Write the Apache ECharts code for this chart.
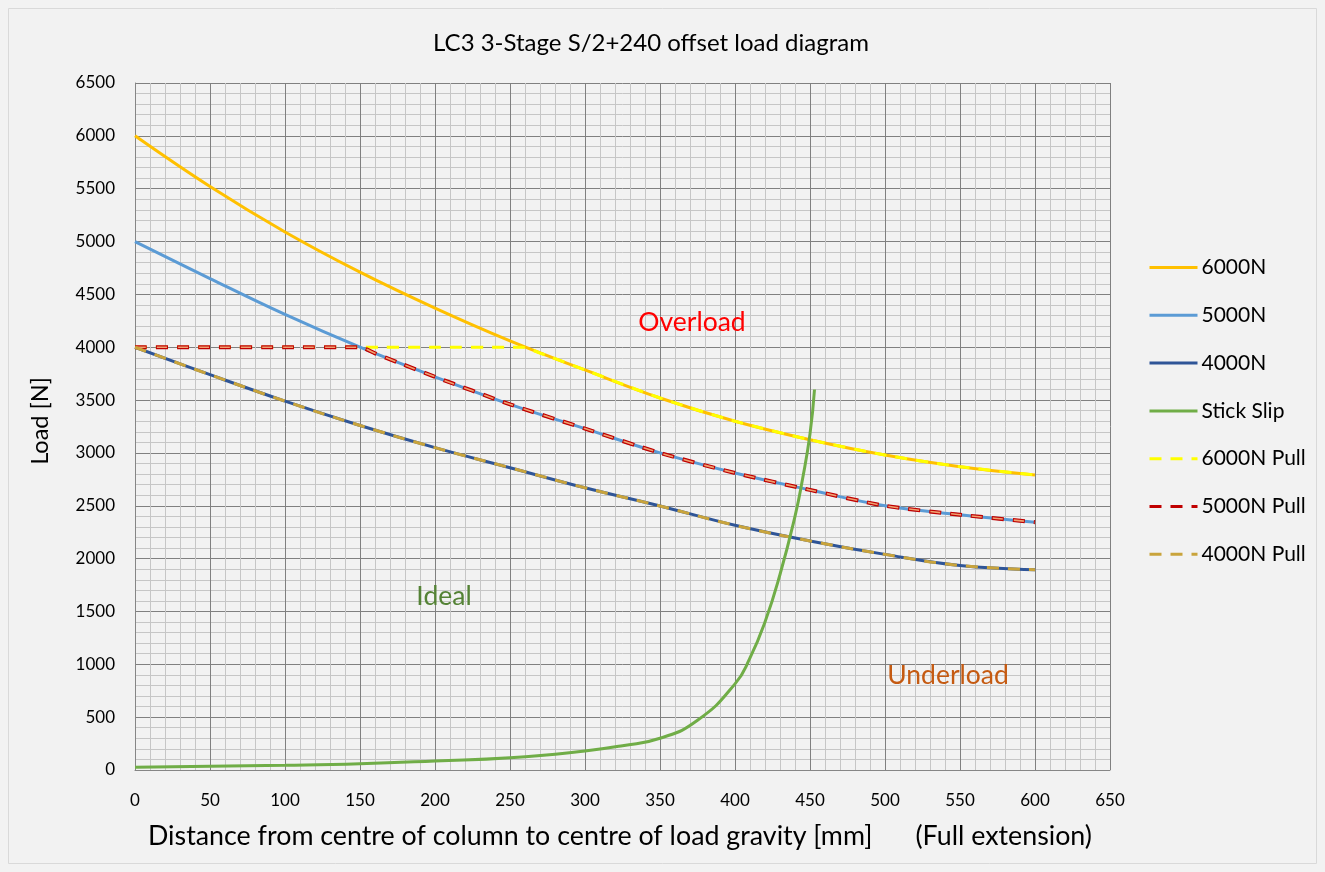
<!DOCTYPE html>
<html>
<head>
<meta charset="utf-8">
<script src="https://cdn.jsdelivr.net/npm/echarts@6/dist/echarts.min.js"></script>
<style>
html,body{margin:0;padding:0;background:#f2f2f2;}
#chart{width:1325px;height:872px;}
</style>
</head>
<body>
<div id="chart"></div>
<script>
// ---- data ----
const xMm = [0, 50, 100, 150, 200, 250, 300, 350, 400, 450, 500, 550, 600];
const load6000 = [6000, 5520, 5090, 4710, 4370, 4060, 3785, 3520, 3300, 3125, 2980, 2870, 2792];
const load5000 = [5000, 4650, 4310, 4000, 3720, 3460, 3230, 3000, 2810, 2650, 2500, 2415, 2345];
const load4000 = [4000, 3740, 3490, 3260, 3050, 2860, 2670, 2498, 2315, 2167, 2040, 1935, 1895];
const stickX = [0, 50, 100, 150, 200, 250, 300, 325, 350, 375, 400, 410, 420, 430, 440, 445, 450, 453];
const stickY = [25, 35, 45, 60, 85, 115, 180, 230, 300, 470, 815, 1060, 1400, 1850, 2400, 2750, 3180, 3600];
const pull6000X = [0, 50, 100, 150, 200, 250, 258, 270, 300, 350, 400, 450, 500, 550, 600];
const pull6000Y = [4000, 4000, 4000, 4000, 4000, 4000, 4000, 3945, 3785, 3520, 3300, 3125, 2980, 2870, 2792];
const pull5000X = [0, 50, 100, 150, 160, 175, 200, 250, 300, 350, 400, 450, 500, 550, 600];
const pull5000Y = [4000, 4000, 4000, 4000, 3942, 3858, 3720, 3460, 3230, 3000, 2810, 2650, 2500, 2415, 2345];
const pull4000X = xMm;
const pull4000Y = load4000;
const seriesNames = ['6000N', '5000N', '4000N', 'Stick Slip', '6000N Pull', '5000N Pull', '4000N Pull'];
const titleText = 'LC3 3-Stage S/2+240 offset load diagram';
const xTitle = 'Distance from centre of column to centre of load gravity [mm]';
const xTitle2 = '(Full extension)';
const yTitle = 'Load [N]';

const pairs = (xs, ys) => xs.map((x, i) => [x, ys[i]]);
const FONT = 'Lato, "Liberation Sans", sans-serif';

const chart = echarts.init(document.getElementById('chart'), null, {renderer: 'canvas'});
const baseLine = {type: 'line', showSymbol: false, symbol: 'none', smooth: 0.4, animation: false};

const option = {
  backgroundColor: '#f2f2f2',
  animation: false,
  textStyle: {fontFamily: FONT},
  grid: {left: 135, right: 215, top: 83, bottom: 102, containLabel: false},
  xAxis: {
    type: 'value', min: 0, max: 650, interval: 50,
    axisLine: {show: true, lineStyle: {color: '#868686', width: 1}},
    axisTick: {show: false},
    axisLabel: {color: '#000', fontSize: 17, margin: 22, fontFamily: FONT, formatter: v => String(v)},
    splitLine: {show: true, lineStyle: {color: '#808080', width: 1}},
    minorTick: {show: false, splitNumber: 5},
    minorSplitLine: {show: true, lineStyle: {color: '#c6c6c6', width: 1}}
  },
  yAxis: {
    type: 'value', min: 0, max: 6500, interval: 500,
    axisLine: {show: true, lineStyle: {color: '#868686', width: 1}},
    axisTick: {show: false},
    axisLabel: {color: '#000', fontSize: 17, margin: 20, fontFamily: FONT, formatter: v => String(v)},
    splitLine: {show: true, lineStyle: {color: '#808080', width: 1}},
    minorTick: {show: false, splitNumber: 5},
    minorSplitLine: {show: true, lineStyle: {color: '#c6c6c6', width: 1}}
  },
  legend: {
    orient: 'vertical', left: 1148, top: 257, padding: 0,
    itemWidth: 48, itemHeight: 14, itemGap: 26.8,
    itemStyle: {opacity: 0},
    lineStyle: {width: 3},
    textStyle: {fontSize: 21, color: '#000', fontFamily: FONT, padding: [0, 0, 0, -1]},
    data: seriesNames
  },
  graphic: [
    {type: 'rect', z: 100, shape: {x: 8.5, y: 8.5, width: 1308, height: 855}, style: {fill: 'none', stroke: '#d9d9d9', lineWidth: 1}, silent: true},
    {type: 'text', z: 100, x: 651, y: 43, style: {text: titleText, fill: '#000', font: '24px ' + FONT, align: 'center', verticalAlign: 'middle'}},
    {type: 'text', z: 100, x: 148, y: 836, style: {text: xTitle, fill: '#000', font: '26.8px ' + FONT, align: 'left', verticalAlign: 'middle'}},
    {type: 'text', z: 100, x: 1092, y: 836, style: {text: xTitle2, fill: '#000', font: '26.8px ' + FONT, align: 'right', verticalAlign: 'middle'}},
    {type: 'text', z: 100, x: 40, y: 421, rotation: Math.PI / 2, style: {text: yTitle, fill: '#000', font: '23.5px ' + FONT, align: 'center', verticalAlign: 'middle'}},
    {type: 'text', z: 100, x: 692, y: 322, style: {text: 'Overload', fill: '#ff0000', font: '26.5px ' + FONT, align: 'center', verticalAlign: 'middle'}},
    {type: 'text', z: 100, x: 444, y: 596, style: {text: 'Ideal', fill: '#548235', font: '26.5px ' + FONT, align: 'center', verticalAlign: 'middle'}},
    {type: 'text', z: 100, x: 948, y: 675, style: {text: 'Underload', fill: '#c55a11', font: '26.5px ' + FONT, align: 'center', verticalAlign: 'middle'}}
  ],
  series: [
    Object.assign({}, baseLine, {name: '6000N', data: pairs(xMm, load6000), color: '#ffc000', lineStyle: {color: '#ffc000', width: 3}}),
    Object.assign({}, baseLine, {name: '5000N', data: pairs(xMm, load5000), color: '#5b9bd5', lineStyle: {color: '#5b9bd5', width: 3}}),
    Object.assign({}, baseLine, {name: '4000N', data: pairs(xMm, load4000), color: '#2f5597', lineStyle: {color: '#2f5597', width: 3}}),
    Object.assign({}, baseLine, {name: 'Stick Slip', z: 5, smooth: 0.5, data: pairs(stickX, stickY), color: '#70ad47', lineStyle: {color: '#70ad47', width: 3}}),
    Object.assign({}, baseLine, {name: '6000N Pull', smooth: 0.25, data: pairs(pull6000X, pull6000Y), color: '#ffff00', lineStyle: {color: '#ffff00', width: 3, type: [12, 9]}}),
    Object.assign({}, baseLine, {name: '5000N Pull', smooth: 0.25, data: pairs(pull5000X, pull5000Y), color: '#c00000', lineStyle: {color: '#c00000', width: 4, type: [12, 9]}}),
    Object.assign({}, baseLine, {name: '5000N Pull', smooth: 0.25, data: pairs(pull5000X, pull5000Y), color: '#c00000', lineStyle: {color: '#f0a070', width: 1.6, type: [10, 11], dashOffset: -1}}),
    Object.assign({}, baseLine, {name: '4000N Pull', data: pairs(pull4000X, pull4000Y), color: '#c9a43c', lineStyle: {color: '#c9a43c', width: 3, type: [12, 9]}})
  ]
};
chart.setOption(option);
</script>
</body>
</html>
